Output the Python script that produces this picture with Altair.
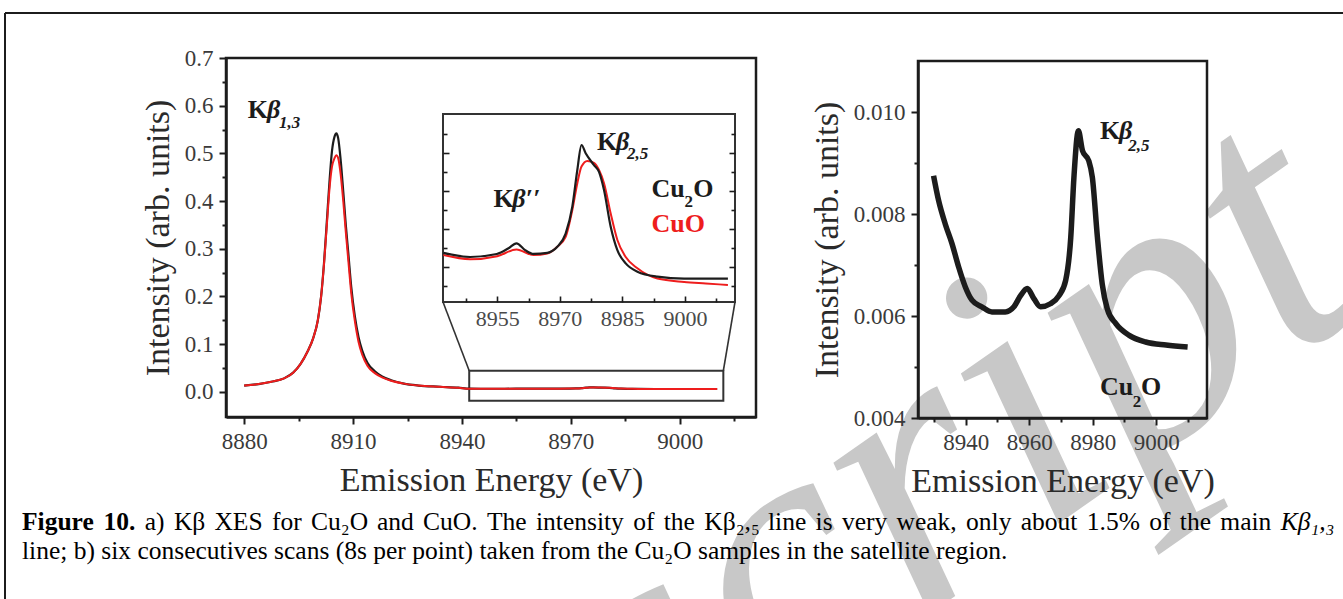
import altair as alt
import pandas as pd

FONT = "Liberation Serif"
INK = "#1c1c1c"
RED = "#ee1d1d"
LABEL = "#3a3a3a"

# ---------------- values ----------------
# (a) K-beta spectra, main peak region (eV, arb. units)
a_cu2o_energy = [8880, 8884, 8887.5, 8891, 8893.5, 8895.5, 8897.5, 8899, 8900.3, 8901.2, 8902,
                 8902.8, 8903.5, 8904.2, 8904.9, 8905.4, 8905.9, 8906.6, 8907.3, 8908, 8908.7,
                 8909.5, 8910.5, 8911.5, 8912.5, 8914, 8916, 8918, 8920.5, 8924, 8928, 8934, 8939]
a_cu2o_int = [0.013, 0.016, 0.021, 0.028, 0.040, 0.058, 0.085, 0.112, 0.150, 0.200, 0.270,
              0.360, 0.440, 0.505, 0.535, 0.542, 0.532, 0.485, 0.420, 0.350, 0.290,
              0.220, 0.158, 0.115, 0.087, 0.060, 0.043, 0.032, 0.024, 0.017, 0.013, 0.0105, 0.0085]
a_cuo_energy = a_cu2o_energy
a_cuo_int = [0.013, 0.016, 0.021, 0.028, 0.040, 0.058, 0.085, 0.112, 0.150, 0.200, 0.268,
             0.352, 0.425, 0.472, 0.490, 0.496, 0.490, 0.455, 0.400, 0.335, 0.275,
             0.207, 0.148, 0.105, 0.078, 0.054, 0.039, 0.030, 0.023, 0.017, 0.013, 0.0103, 0.0083]

# (a) inset: satellite region of the same spectra
sat_cu2o_energy = [8942.1, 8948.5, 8954.9, 8957.7, 8959.6, 8961.7, 8963.7, 8967, 8969.4, 8971.4,
                   8973, 8974.2, 8975.2, 8976.2, 8978.2, 8979.4, 8980.6, 8982.2, 8983.8, 8985.8,
                   8988.6, 8993.4, 8999.8, 9010.3]
sat_cu2o_int = [0.00637, 0.00626, 0.00634, 0.00649, 0.00662, 0.00644, 0.00634, 0.00637, 0.00653, 0.00688,
                0.00759, 0.00856, 0.00922, 0.00900, 0.00869, 0.00851, 0.00803, 0.00706, 0.00644, 0.00609,
                0.00587, 0.00574, 0.00569, 0.00569]
sat_cuo_energy = [8942.1, 8948.5, 8955, 8959.6, 8963.7, 8967, 8969.4, 8971.4, 8973, 8974.2,
                  8975.2, 8976.6, 8978.2, 8979.4, 8980.6, 8982.2, 8983.8, 8985.8, 8988.6, 8993.4,
                  8999.8, 9005, 9010.3]
sat_cuo_int = [0.00631, 0.00620, 0.00628, 0.00646, 0.00631, 0.00635, 0.00653, 0.00679, 0.00750, 0.00821,
               0.00865, 0.00880, 0.00875, 0.00856, 0.00821, 0.00741, 0.00671, 0.00626, 0.00596, 0.00569,
               0.00560, 0.00556, 0.00552]

# (b) Cu2O satellite region, six consecutive scans (drawn as one band)
b_energy = [8929.9, 8931.5, 8933.6, 8935.7, 8937.8, 8939.9, 8942, 8945.1, 8948.3, 8952.5, 8955.2,
            8957.3, 8959.4, 8961.5, 8963.6, 8966.7, 8969.4, 8971.5, 8973.1, 8974.1, 8975.5, 8976.8,
            8978.8, 8979.9, 8981.5, 8983, 8984.6, 8987.3, 8991.5, 8996.7, 9003.1, 9009.9]
b_int = [0.00875, 0.00826, 0.00780, 0.00742, 0.00696, 0.00657, 0.00631, 0.00618, 0.00608, 0.00608, 0.00618,
         0.00640, 0.00654, 0.00634, 0.00618, 0.00624, 0.00640, 0.00670, 0.00754, 0.00872, 0.00963, 0.00924,
         0.00904, 0.00872, 0.00754, 0.00663, 0.00614, 0.00585, 0.00562, 0.00549, 0.00543, 0.00539]

# tick values
a_x_ticks = [8880, 8895, 8910, 8925, 8940, 8955, 8970, 8985, 9000, 9015]
a_y_ticks = [0.0, 0.05, 0.1, 0.15, 0.2, 0.25, 0.3, 0.35, 0.4, 0.45, 0.5, 0.55, 0.6, 0.65, 0.7]
inset_x_ticks = [8947.5, 8955, 8962.5, 8970, 8977.5, 8985, 8992.5, 9000, 9007.5]
inset_x_labels = [8955, 8970, 8985, 9000]
inset_y_ticks = [0.0055, 0.006, 0.0065, 0.007, 0.0075, 0.008, 0.0085, 0.009, 0.0095]
b_x_ticks = [8930, 8940, 8950, 8960, 8970, 8980, 8990, 9000, 9010]
b_y_ticks = [0.004, 0.005, 0.006, 0.007, 0.008, 0.009, 0.010]

# caption text
caption_line1 = [("Figure", "bold", "normal"), ("10.", "bold", "normal"), ("a)", "normal", "normal"),
                 ("Kβ", "normal", "normal"), ("XES", "normal", "normal"), ("for", "normal", "normal"),
                 ("Cu₂O", "normal", "normal"), ("and", "normal", "normal"), ("CuO.", "normal", "normal"),
                 ("The", "normal", "normal"), ("intensity", "normal", "normal"), ("of", "normal", "normal"),
                 ("the", "normal", "normal"), ("Kβ₂,₅", "normal", "normal"), ("line", "normal", "normal"),
                 ("is", "normal", "normal"), ("very", "normal", "normal"), ("weak,", "normal", "normal"),
                 ("only", "normal", "normal"), ("about", "normal", "normal"), ("1.5%", "normal", "normal"),
                 ("of", "normal", "normal"), ("the", "normal", "normal"), ("main", "normal", "normal"),
                 ("Kβ₁,₃", "normal", "italic")]
caption_line2 = "line; b) six consecutives scans (8s per point) taken from the Cu₂O samples in the satellite region."

# ---------------- layout (page pixels) ----------------
PAGE_W, PAGE_H = 1343, 599
A_X_DOM, A_X_PX = [8875, 9021], [226, 756]
A_Y_DOM, A_Y_PX = [-0.053, 0.70], [417, 58]
IN_X_DOM, IN_X_PX = [8942, 9012], [443, 735]
IN_Y_DOM, IN_Y_PX = [0.00507, 0.01004], [302, 114]
B_X_DOM, B_X_PX = [8925, 9016], [918, 1207]
B_Y_DOM, B_Y_PX = [0.004, 0.011], [418, 61]
ZOOM_BOX_Y = [-0.019, 0.044]
CAP_SIZE = 25.5
CAP_X0, CAP_X1 = 22, 1335


def sc(dom, rng):
    return alt.Scale(domain=dom, range=rng, nice=False, zero=False)


def inv(px, dom, rng):
    return dom[0] + (px - rng[0]) * (dom[1] - dom[0]) / (rng[1] - rng[0])


AX = dict(grid=False, domainColor=INK, domainWidth=2.5, tickColor=INK, tickWidth=2,
          labelFont=FONT, labelFontSize=23, labelColor=LABEL, labelFlush=False,
          labelOverlap=False, titleFont=FONT, titleFontSize=34, titleFontWeight="normal",
          titleColor="#2a2a2a", zindex=2)


def major(test, big, small):
    return {"condition": {"test": test, "value": big}, "value": small}


ax_a_x = alt.Axis(orient="bottom", offset=A_Y_PX[0] - PAGE_H, values=a_x_ticks, format="d",
                  labelExpr="datum.value % 30 == 0 ? datum.label : ''",
                  tickSize=major("datum.value % 30 == 0", 7, 4), labelPadding=6,
                  title="Emission Energy (eV)", titlePadding=10, **AX)
ax_a_y = alt.Axis(orient="left", offset=-A_X_PX[0], values=a_y_ticks, format=".1f",
                  labelExpr="round(datum.value * 100) % 10 == 0 ? datum.label : ''",
                  tickSize=major("round(datum.value * 100) % 10 == 0", 7, 4), labelPadding=6,
                  title="Intensity (arb. units)", titlePadding=9, **AX)
ax_b_x = alt.Axis(orient="bottom", offset=B_Y_PX[0] - PAGE_H, values=b_x_ticks, format="d",
                  labelExpr="datum.value % 20 == 0 ? datum.label : ''",
                  tickSize=major("datum.value % 20 == 0", 7, 4), labelPadding=6,
                  title="Emission Energy (eV)", titlePadding=10, **AX)
ax_b_y = alt.Axis(orient="left", offset=-B_X_PX[0], values=b_y_ticks, format=".3f",
                  labelExpr="round(datum.value * 1000) % 2 == 0 ? datum.label : ''",
                  tickSize=major("round(datum.value * 1000) % 2 == 0", 7, 4), labelPadding=6,
                  title="Intensity (arb. units)", titlePadding=9, **AX)
INSET_AX = dict(grid=False, domain=False, tickColor=INK, tickWidth=1.6, title=None, zindex=2)
# inward ticks of the inset: axes turned to face into the inset box
ax_in_bottom_ticks = alt.Axis(orient="top", offset=-IN_Y_PX[0], values=inset_x_ticks, labels=False,
                              tickSize=major("datum.value % 15 == 0", 6, 4), **INSET_AX)
ax_in_left_ticks = alt.Axis(orient="right", offset=IN_X_PX[0] - PAGE_W, values=inset_y_ticks,
                            labels=False,
                            tickSize=major("round(datum.value * 10000) % 10 == 0", 6, 4), **INSET_AX)
ax_in_right_ticks = alt.Axis(orient="left", offset=-IN_X_PX[1], values=inset_y_ticks, labels=False,
                             tickSize=major("round(datum.value * 10000) % 10 == 0", 6, 4), **INSET_AX)
ax_in_labels = alt.Axis(orient="bottom", offset=IN_Y_PX[0] - PAGE_H, values=inset_x_labels, format="d",
                        ticks=False, domain=False, grid=False, labelFont=FONT, labelFontSize=22,
                        labelColor="#4a4a4a", labelPadding=6, labelFlush=False, labelOverlap=False,
                        title=None, zindex=2)

# ---------------- tables ----------------
a_cu2o = pd.DataFrame({"e": a_cu2o_energy + sat_cu2o_energy, "i": a_cu2o_int + sat_cu2o_int})
a_cuo = pd.DataFrame({"e": a_cuo_energy + sat_cuo_energy, "i": a_cuo_int + sat_cuo_int})
sat_cu2o = pd.DataFrame({"e": sat_cu2o_energy, "i": sat_cu2o_int})
sat_cuo = pd.DataFrame({"e": sat_cuo_energy, "i": sat_cuo_int})
b_df = pd.DataFrame({"e": b_energy, "i": b_int})

a_frame = pd.DataFrame({"x": [A_X_DOM[0]], "x2": [A_X_DOM[1]], "y": [A_Y_DOM[0]], "y2": [A_Y_DOM[1]]})
b_frame = pd.DataFrame({"x": [B_X_DOM[0]], "x2": [B_X_DOM[1]], "y": [B_Y_DOM[0]], "y2": [B_Y_DOM[1]]})
in_frame = pd.DataFrame({"x": [IN_X_DOM[0]], "x2": [IN_X_DOM[1]], "y": [IN_Y_DOM[0]], "y2": [IN_Y_DOM[1]]})
zoom_box = pd.DataFrame({"x": [IN_X_DOM[0]], "x2": [IN_X_DOM[1]], "y": [ZOOM_BOX_Y[0]], "y2": [ZOOM_BOX_Y[1]]})
corner_y = inv(IN_Y_PX[0], A_Y_DOM, A_Y_PX)
connectors = pd.DataFrame({
    "x": [inv(IN_X_PX[0], A_X_DOM, A_X_PX), inv(IN_X_PX[1], A_X_DOM, A_X_PX)],
    "y": [corner_y, corner_y],
    "x2": [IN_X_DOM[0], IN_X_DOM[1]],
    "y2": [ZOOM_BOX_Y[1], ZOOM_BOX_Y[1]],
})


def xs(dom, rng, axis=None):
    return alt.X("e:Q", scale=sc(dom, rng), axis=axis)


def ys(dom, rng, axis=None):
    return alt.Y("i:Q", scale=sc(dom, rng), axis=axis)


def box(df, xdom, xpx, ydom, ypx, width, color=INK, fill=None, xaxis=None, yaxis=None):
    kw = dict(stroke=color, strokeWidth=width)
    m = alt.Chart(df).mark_rect(fill=fill, **kw) if fill else alt.Chart(df).mark_rect(filled=False, **kw)
    return m.encode(
        x=alt.X("x:Q", scale=sc(xdom, xpx), axis=xaxis), x2="x2:Q",
        y=alt.Y("y:Q", scale=sc(ydom, ypx), axis=yaxis), y2="y2:Q")


def line(df, xdom, xpx, ydom, ypx, color, width, xaxis=None, yaxis=None):
    return alt.Chart(df).mark_line(color=color, strokeWidth=width, interpolate="monotone").encode(
        x=xs(xdom, xpx, xaxis), y=ys(ydom, ypx, yaxis))


# ---------------- annotations (data coordinates of each panel) ----------------
def label(text, x, y, xdom, xpx, ydom, ypx, size, color=INK, style="normal", weight="bold"):
    df = pd.DataFrame({"x": [x], "y": [y], "t": [text]})
    return alt.Chart(df).mark_text(font=FONT, fontSize=size, fontWeight=weight, fontStyle=style,
                                   color=color, align="left", baseline="alphabetic").encode(
        x=alt.X("x:Q", scale=sc(xdom, xpx), axis=None),
        y=alt.Y("y:Q", scale=sc(ydom, ypx), axis=None), text="t:N")


A = (A_X_DOM, A_X_PX, A_Y_DOM, A_Y_PX)
IN = (IN_X_DOM, IN_X_PX, IN_Y_DOM, IN_Y_PX)
B = (B_X_DOM, B_X_PX, B_Y_DOM, B_Y_PX)

labels = [
    label("K", 8881.0, 0.574, *A, 26),
    label("β", 8886.3, 0.574, *A, 26, style="italic"),
    label("1,3", 8889.6, 0.553, *A, 17, style="italic"),
    label("K", 8954.1, 0.00758, *IN, 26),
    label("β′′", 8958.6, 0.00758, *IN, 26, style="italic"),
    label("K", 8978.9, 0.00909, *IN, 26),
    label("β", 8983.5, 0.00909, *IN, 26, style="italic"),
    label("2,5", 8986.1, 0.00886, *IN, 17, style="italic"),
    label("Cu", 8992.0, 0.00785, *IN, 26),
    label("2", 8999.9, 0.00757, *IN, 17),
    label("O", 9002.0, 0.00785, *IN, 26),
    label("CuO", 8992.0, 0.00693, *IN, 26, color=RED),
    label("K", 8982.3, 0.00948, *B, 26),
    label("β", 8988.3, 0.00948, *B, 26, style="italic"),
    label("2,5", 8991.2, 0.00924, *B, 17, style="italic"),
    label("Cu", 8982.3, 0.00445, *B, 26),
    label("2", 8992.6, 0.00422, *B, 17),
    label("O", 8995.2, 0.00445, *B, 26),
]

# ---------------- page decorations ----------------
wm = alt.Chart(pd.DataFrame({"t": ["script"]})).mark_text(
    font=FONT, fontSize=390, fontStyle="italic", color="#c8c8c8", angle=325, align="right",
    baseline="alphabetic"
).encode(x=alt.value(1378), y=alt.value(300), text="t:N")

page_frame = alt.Chart(pd.DataFrame({"k": [0]})).mark_rule(color=INK, strokeWidth=2).encode(
    x=alt.value(5), x2=alt.value(PAGE_W), y=alt.value(13), y2=alt.value(13))
page_frame_l = alt.Chart(pd.DataFrame({"k": [0]})).mark_rule(color=INK, strokeWidth=2).encode(
    x=alt.value(5), x2=alt.value(5), y=alt.value(13), y2=alt.value(PAGE_H))

# Times/Liberation Serif advance widths (1/1000 em) for justifying caption line 1
W_REG = {" ": 250, "(": 333, ")": 333, ",": 250, ".": 250, "%": 833, ";": 278, "C": 667, "E": 611,
         "F": 556, "K": 722, "O": 722, "S": 556, "T": 611, "X": 722, "a": 444, "b": 500, "c": 444,
         "d": 500, "e": 444, "f": 333, "g": 500, "h": 500, "i": 278, "k": 500, "l": 278, "m": 778,
         "n": 500, "o": 500, "p": 500, "r": 333, "s": 389, "t": 278, "u": 500, "v": 500, "w": 722,
         "y": 500, "β": 500, "₁": 330, "₂": 330, "₃": 330, "₅": 330}
W_BOLD = {"F": 611, "i": 278, "g": 500, "u": 556, "r": 444, "e": 444, ".": 250}


def text_w(word, weight):
    tab = W_BOLD if weight == "bold" else W_REG
    return sum(tab.get(ch, W_REG.get(ch, 500)) for ch in word) * CAP_SIZE / 1000.0


def cap(text, x, y, weight="normal", style="normal"):
    return alt.Chart(pd.DataFrame({"t": [text]})).mark_text(
        font=FONT, fontSize=CAP_SIZE, fontWeight=weight, fontStyle=style, color="#000",
        align="left", baseline="alphabetic"
    ).encode(x=alt.value(x), y=alt.value(y), text="t:N")


widths = [text_w(w, wt) for w, wt, _ in caption_line1]
gap = (CAP_X1 - CAP_X0 - sum(widths)) / (len(caption_line1) - 1)
caption = []
cx = CAP_X0
for (w, wt, st), wd in zip(caption_line1, widths):
    caption.append(cap(w, cx, 530, wt, st))
    cx += wd + gap
caption.append(cap(caption_line2, CAP_X0, 559))

layers = [
    wm, page_frame, page_frame_l,
    # panel a
    box(a_frame, A_X_DOM, A_X_PX, A_Y_DOM, A_Y_PX, 2.5),
    box(zoom_box, A_X_DOM, A_X_PX, A_Y_DOM, A_Y_PX, 2, color="#333"),
    alt.Chart(connectors).mark_rule(color="#333", strokeWidth=1.6).encode(
        x=alt.X("x:Q", scale=sc(A_X_DOM, A_X_PX), axis=None), x2="x2:Q",
        y=alt.Y("y:Q", scale=sc(A_Y_DOM, A_Y_PX), axis=None), y2="y2:Q"),
    line(a_cu2o, A_X_DOM, A_X_PX, A_Y_DOM, A_Y_PX, INK, 2.2, ax_a_x, ax_a_y),
    line(a_cuo, A_X_DOM, A_X_PX, A_Y_DOM, A_Y_PX, RED, 2.0),
    # inset
    box(in_frame, IN_X_DOM, IN_X_PX, IN_Y_DOM, IN_Y_PX, 2, color="#333", fill="white",
        xaxis=ax_in_labels, yaxis=ax_in_right_ticks),
    line(sat_cuo, IN_X_DOM, IN_X_PX, IN_Y_DOM, IN_Y_PX, RED, 2.0),
    line(sat_cu2o, IN_X_DOM, IN_X_PX, IN_Y_DOM, IN_Y_PX, INK, 2.2, ax_in_bottom_ticks, ax_in_left_ticks),
    # panel b
    box(b_frame, B_X_DOM, B_X_PX, B_Y_DOM, B_Y_PX, 2.5),
    line(b_df, B_X_DOM, B_X_PX, B_Y_DOM, B_Y_PX, INK, 5.5, ax_b_x, ax_b_y),
] + labels + caption

chart = alt.layer(*layers).resolve_scale(x="independent", y="independent").resolve_axis(
    x="independent", y="independent"
).properties(
    width=PAGE_W, height=PAGE_H, autosize=alt.AutoSizeParams(type="none"), padding=0,
    background="white"
).configure_view(stroke=None)

chart.save("out.html", embed_options={"renderer": "svg", "actions": False})
